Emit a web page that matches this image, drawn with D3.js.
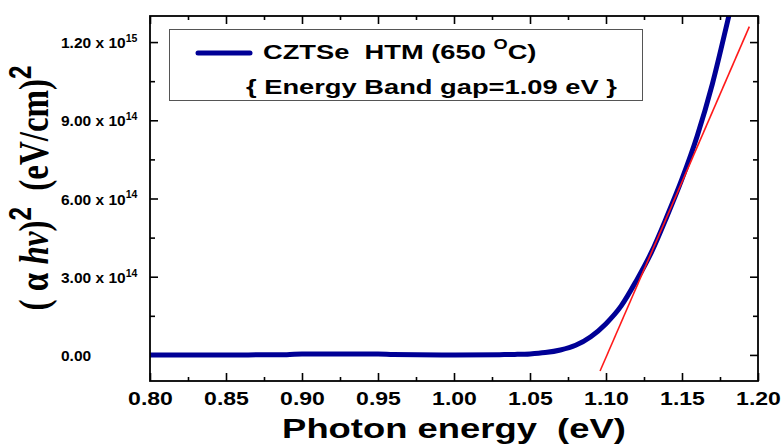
<!DOCTYPE html>
<html>
<head>
<meta charset="utf-8">
<script src="https://cdn.jsdelivr.net/npm/d3@7"></script>
<style>
  html, body { margin: 0; padding: 0; background: #fff; }
  svg { display: block; }
  text { font-weight: bold; fill: #000; white-space: pre; }
</style>
</head>
<body>
<svg id="chart" width="783" height="444"></svg>
<script>
// Photon energy (eV) and (αhν)² (eV/cm)² for CZTSe HTM annealed at 650 °C
const energy = [0.80, 0.85, 0.89, 0.90, 0.95, 0.96, 1.00, 1.03, 1.04, 1.05, 1.06, 1.07,
                1.08, 1.09, 1.10, 1.11, 1.12, 1.13, 1.14, 1.15, 1.16, 1.17, 1.18, 1.19];
const absorption = [0.00e14, 0.00e14, 0.01e14, 0.04e14, 0.04e14, 0.02e14, 0.00e14, 0.01e14,
                    0.02e14, 0.04e14, 0.09e14, 0.19e14, 0.37e14, 0.70e14, 1.20e14, 1.88e14,
                    2.85e14, 3.95e14, 5.30e14, 6.75e14, 8.40e14, 10.4e14, 12.8e14, 15.3e14];

// Linear fit of the absorption edge (Tauc extrapolation)
const fitEnergy = [1.0961, 1.1943];
const fitValue = [-0.618e14, 12.59e14];

// Axis ticks
const xMajor = [0.80, 0.85, 0.90, 0.95, 1.00, 1.05, 1.10, 1.15, 1.20];
const xMinor = [0.825, 0.875, 0.925, 0.975, 1.025, 1.075, 1.125, 1.175];
const yMajor = [0, 3e14, 6e14, 9e14, 1.2e15];
const yMinor = [1.5e14, 4.5e14, 7.5e14, 10.5e14];
const yTickMantissa = ["0.00", "3.00", "6.00", "9.00", "1.20"];
const yTickExponent = ["", "14", "14", "14", "15"];

const legendTitle = "CZTSe  HTM (650 ";
const legendNote = "{ Energy Band gap=1.09 eV }";

const SANS = "Arial, 'Liberation Sans', Helvetica, sans-serif";
const SERIF = "'Times New Roman', 'Liberation Serif', serif";

const svg = d3.select("#chart");
const plotLeft = 150, plotRight = 758, plotTop = 16, plotBottom = 381;

const x = d3.scaleLinear().domain([0.80, 1.20]).range([plotLeft, plotRight]);
const y = d3.scaleLinear().domain([-1.0e14, 1.30e15]).range([plotBottom, plotTop]);

// Clip for the data marks
svg.append("defs").append("clipPath").attr("id", "plotClip")
  .append("rect").attr("x", plotLeft).attr("y", plotTop)
  .attr("width", plotRight - plotLeft).attr("height", plotBottom - plotTop);

// Ticks (all pointing into the plot)
function ticks(axisFn, scale, values, size, tx, ty) {
  const g = svg.append("g").attr("transform", `translate(${tx},${ty})`)
    .call(axisFn(scale).tickValues(values).tickSizeInner(-size).tickSizeOuter(0).tickFormat(""));
  g.select(".domain").remove();
  g.selectAll(".tick line").attr("stroke", "#000").attr("stroke-width", 1.6);
  return g;
}
ticks(d3.axisBottom, x, xMajor, 8, 0, plotBottom);
ticks(d3.axisBottom, x, xMinor, 4, 0, plotBottom);
ticks(d3.axisTop, x, xMajor, 8, 0, plotTop);
ticks(d3.axisTop, x, xMinor, 4, 0, plotTop);
ticks(d3.axisLeft, y, yMajor, 8, plotLeft, 0);
ticks(d3.axisLeft, y, yMinor, 5, plotLeft, 0);
ticks(d3.axisRight, y, yMajor, 8, plotRight, 0);
ticks(d3.axisRight, y, yMinor, 5, plotRight, 0);

// X tick labels (wide bold digits)
const xAxisLabels = svg.append("g").attr("transform", `translate(0,${plotBottom})`)
  .call(d3.axisBottom(x).tickValues(xMajor).tickSize(0).tickPadding(11).tickFormat(d3.format(".2f")));
xAxisLabels.select(".domain").remove();
xAxisLabels.selectAll(".tick text")
  .style("font-family", SANS).style("font-weight", "bold")
  .attr("font-size", 18)
  .attr("fill", "#000")
  .attr("transform", "scale(1.28,1)");

// Y tick labels with power-of-ten exponents
const yLab = svg.append("g").style("font-family", SANS);
yMajor.forEach((v, i) => {
  const t = yLab.append("text")
    .attr("x", 61).attr("y", y(v)).attr("dy", "0.4em")
    .attr("font-size", 15.5);
  if (yTickExponent[i]) {
    t.append("tspan").text(yTickMantissa[i] + " x 10");
    t.append("tspan").attr("font-size", 10.5).attr("dy", "-0.6em").text(yTickExponent[i]);
  } else {
    t.text(yTickMantissa[i]);
  }
});

// Data marks
const plot = svg.append("g").attr("clip-path", "url(#plotClip)");
const series = energy.map((e, i) => [e, absorption[i]]);
plot.append("path")
  .datum(series)
  .attr("fill", "none")
  .attr("stroke", "#000096")
  .attr("stroke-width", 5)
  .attr("stroke-linejoin", "round")
  .attr("d", d3.line().x(d => x(d[0])).y(d => y(d[1])).curve(d3.curveMonotoneX));

plot.append("path")
  .datum(fitEnergy.map((e, i) => [e, fitValue[i]]))
  .attr("fill", "none")
  .attr("stroke", "#ff1a1a")
  .attr("stroke-width", 1.6)
  .attr("d", d3.line().x(d => x(d[0])).y(d => y(d[1])));

// Plot frame
svg.append("rect")
  .attr("x", plotLeft).attr("y", plotTop)
  .attr("width", plotRight - plotLeft).attr("height", plotBottom - plotTop)
  .attr("fill", "none").attr("stroke", "#000").attr("stroke-width", 1.8);

// Legend
const legend = svg.append("g").style("font-family", SANS);
legend.append("rect")
  .attr("x", 169.5).attr("y", 29.5).attr("width", 473).attr("height", 71)
  .attr("fill", "#fff").attr("stroke", "#555").attr("stroke-width", 1);
legend.append("line")
  .attr("x1", 198).attr("x2", 250).attr("y1", 53).attr("y2", 53)
  .attr("stroke", "#000096").attr("stroke-width", 5).attr("stroke-linecap", "round");
const lt = legend.append("text")
  .attr("transform", "translate(263,59) scale(1.3,1)")
  .attr("font-size", 21);
lt.append("tspan").text(legendTitle);
lt.append("tspan").attr("font-size", 14).attr("dy", "-0.75em").text("O");
lt.append("tspan").attr("dy", "0.5em").text("C)");
legend.append("text")
  .attr("transform", "translate(246,94) scale(1.3,1)")
  .attr("font-size", 21)
  .text(legendNote);

// X axis title
svg.append("text")
  .style("font-family", SANS)
  .attr("transform", `translate(${(plotLeft + plotRight) / 2},438) scale(1.3,1)`)
  .attr("text-anchor", "middle")
  .attr("font-size", 28)
  .text("Photon energy  (eV)");

// Y axis title: (α hν)² (eV/cm)²
const yt = svg.append("text")
  .style("font-family", SERIF)
  .attr("transform", "translate(48,188) rotate(-90) scale(1,1.3)")
  .attr("text-anchor", "middle")
  .attr("font-size", 33);
yt.append("tspan").text("( α ");
yt.append("tspan").style("font-style", "italic").text("hv");
yt.append("tspan").text(")");
yt.append("tspan").style("font-family", SANS)
  .attr("font-size", 24).attr("dy", -13).text("2");
yt.append("tspan").attr("dy", 13).text("  (eV/cm)");
yt.append("tspan").style("font-family", SANS)
  .attr("font-size", 24).attr("dy", -13).text("2");
</script>
</body>
</html>
